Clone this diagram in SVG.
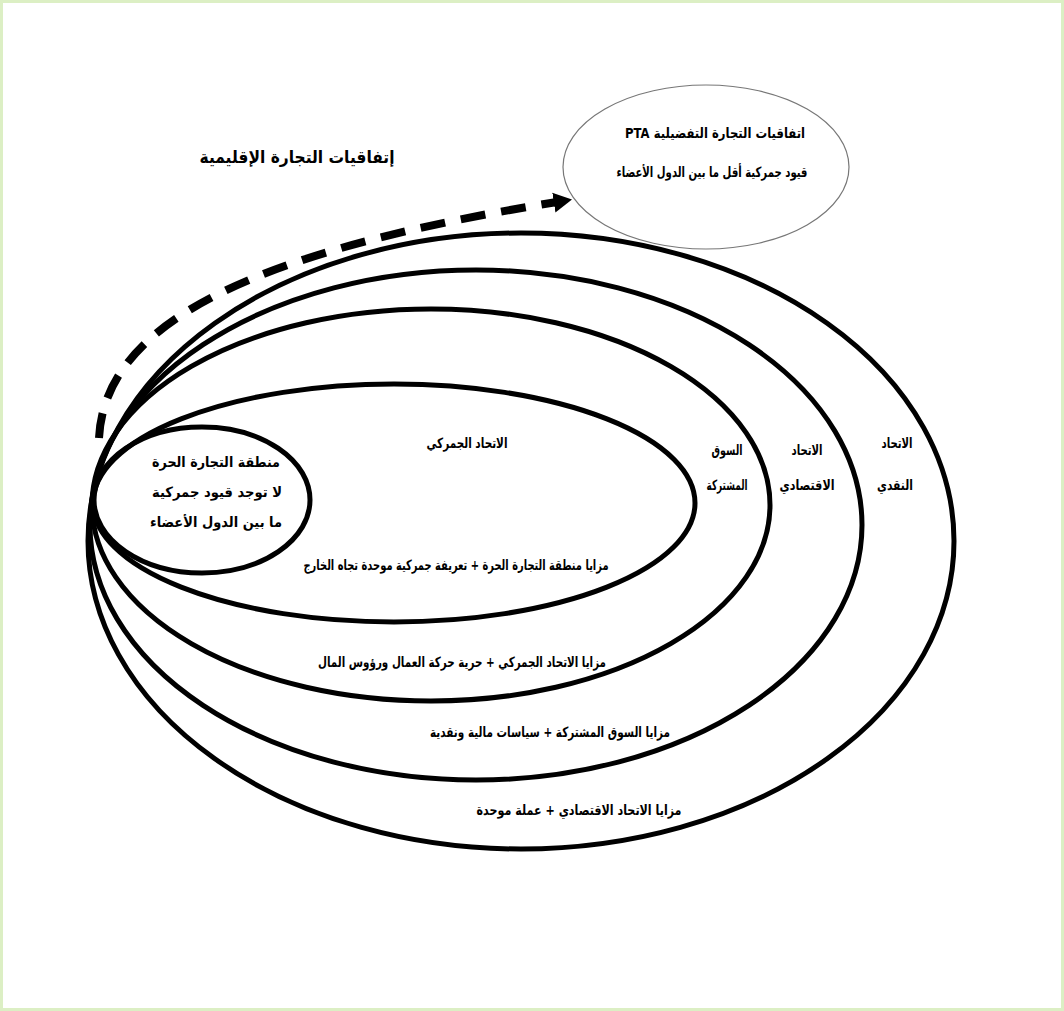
<svg xmlns="http://www.w3.org/2000/svg" width="1064" height="1011" viewBox="0 0 1064 1011">
<style>
.ring{fill:none;stroke:#000;stroke-width:5}
.thin{fill:none;stroke:#777;stroke-width:1.2}
.t{font-family:"DejaVu Sans",sans-serif;font-weight:bold;font-size:14px;fill:#000;text-anchor:middle}
.title{font-size:17px}
</style>
<defs>
<marker id="ah" markerWidth="4" markerHeight="6" refX="0.4" refY="3" orient="auto" markerUnits="strokeWidth">
<path d="M0,1.75 L2.3,3 L0,4.25 Z" fill="#000"/>
</marker>
</defs>
<rect x="0" y="0" width="1064" height="1011" fill="#fff"/>
<rect x="1.5" y="1.5" width="1061" height="1008" fill="none" stroke="#dcefc4" stroke-width="3"/>

<text class="t title" x="297" y="163" direction="rtl" textLength="195" lengthAdjust="spacingAndGlyphs">إتفاقيات التجارة الإقليمية</text>

<g id="monetary-union">
<ellipse class="ring" cx="521" cy="541" rx="433" ry="308"/>
<text class="t" x="897" y="448" direction="rtl" textLength="31" lengthAdjust="spacingAndGlyphs">الاتحاد</text>
<text class="t" x="895" y="490" direction="rtl" textLength="36" lengthAdjust="spacingAndGlyphs">النقدي</text>
<text class="t" x="579" y="815" direction="rtl" textLength="205" lengthAdjust="spacingAndGlyphs">مزايا الاتحاد الاقتصادي + عملة موحدة</text>
</g>

<g id="economic-union">
<ellipse class="ring" cx="476" cy="525" rx="386" ry="255"/>
<text class="t" x="807" y="455" direction="rtl" textLength="31" lengthAdjust="spacingAndGlyphs">الاتحاد</text>
<text class="t" x="807" y="490" direction="rtl" textLength="55" lengthAdjust="spacingAndGlyphs">الاقتصادي</text>
<text class="t" x="550" y="737" direction="rtl" textLength="240" lengthAdjust="spacingAndGlyphs">مزايا السوق المشتركة + سياسات مالية ونقدية</text>
</g>

<g id="common-market">
<ellipse class="ring" cx="431" cy="505" rx="339" ry="196"/>
<text class="t" x="727" y="455" direction="rtl" textLength="31" lengthAdjust="spacingAndGlyphs">السوق</text>
<text class="t" x="727" y="490" direction="rtl" textLength="41" lengthAdjust="spacingAndGlyphs">المشتركة</text>
<text class="t" x="462" y="667" direction="rtl" textLength="288" lengthAdjust="spacingAndGlyphs">مزايا الاتحاد الجمركي + حرية حركة العمال ورؤوس المال</text>
</g>

<g id="customs-union">
<ellipse class="ring" cx="394" cy="503" rx="301" ry="119"/>
<text class="t" x="467" y="448" direction="rtl" textLength="81" lengthAdjust="spacingAndGlyphs">الاتحاد الجمركي</text>
<text class="t" x="456" y="570" direction="rtl" textLength="305" lengthAdjust="spacingAndGlyphs">مزايا منطقة التجارة الحرة + تعريفة جمركية موحدة تجاه الخارج</text>
</g>

<g id="free-trade-area">
<ellipse class="ring" cx="202" cy="500" rx="108" ry="73"/>
<text class="t" x="216" y="467" direction="rtl" textLength="128" lengthAdjust="spacingAndGlyphs">منطقة التجارة الحرة</text>
<text class="t" x="217" y="497" direction="rtl" textLength="130" lengthAdjust="spacingAndGlyphs">لا توجد قيود جمركية</text>
<text class="t" x="216" y="527" direction="rtl" textLength="132" lengthAdjust="spacingAndGlyphs">ما بين الدول الأعضاء</text>
</g>

<g id="pta">
<ellipse class="thin" cx="706" cy="167" rx="143" ry="82"/>
<text class="t" x="715" y="138" direction="rtl" textLength="180" lengthAdjust="spacingAndGlyphs">اتفاقيات التجارة التفضيلية PTA</text>
<text class="t" x="712" y="177" direction="rtl" textLength="191" lengthAdjust="spacingAndGlyphs">قيود جمركية أقل ما بين الدول الأعضاء</text>
</g>

<g id="connectors">
<path d="M99 438 C105 320 260 250 557 202" fill="none" stroke="#000" stroke-width="8" stroke-dasharray="25 16" marker-end="url(#ah)"/>
</g>
</svg>
